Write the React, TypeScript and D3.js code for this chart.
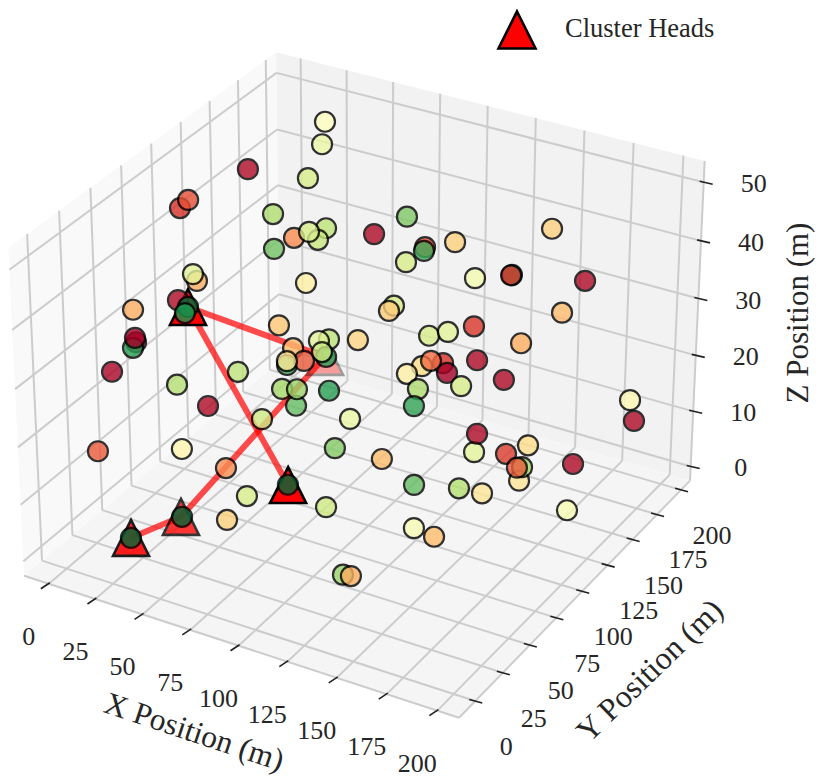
import React from 'react';
import * as d3 from 'd3';

// Sensor nodes, listed far to near (paint order)
const nodeX = [-5.8,-6.4,-6.2,0.8,4.4,2.6,2.3,19.2,20.2,16.7,71.9,32.3,30.0,18.1,25.8,59.7,87.3,87.8,102.5,81.4,117.9,135.9,136.0,37.1,149.8,171.7,7.9,16.2,18.5,18.6,
  10.1,9.9,10.8,6.5,19.9,32.8,27.4,51.7,4.6,25.2,50.8,68.0,65.5,44.8,26.9,50.7,91.5,78.8,74.6,61.9,80.2,60.9,70.5,80.9,63.4,67.9,78.9,76.5,92.5,108.7,
  108.3,132.4,152.3,95.6,117.5,115.5,115.4,140.1,147.9,158.1,178.9,169.9,177.2,158.1,151.0,164.2,155.1,146.3,173.9,153.6,153.3,183.5,182.4,188.5,190.4,193.8,193.2,193.3,189.4,193.7,
  173.6,184.2,197.2,205.0,204.8,201.3,204.4,146.6,150.8];
const nodeY = [170.3,111.8,118.5,181.6,176.2,110.7,107.9,199.2,194.7,187.4,184.4,177.5,173.9,171.9,172.8,175.0,174.2,172.3,175.2,166.8,166.4,168.4,167.4,150.8,180.1,171.3,48.9,73.2,77.8,75.0,
  47.2,44.9,45.4,32.5,64.9,96.6,78.9,86.3,21.8,59.4,56.1,46.0,32.8,27.8,12.8,103.8,105.0,100.9,99.1,97.5,95.9,93.7,92.7,91.1,89.5,77.6,71.4,76.3,77.5,68.3,
  55.6,55.4,49.0,36.1,32.1,95.5,91.2,83.4,86.3,91.3,96.3,72.7,84.1,63.6,57.6,56.1,58.2,52.7,51.1,49.5,46.6,45.9,50.4,66.0,82.9,68.6,72.3,67.3,21.8,34.7,
  11.0,9.7,98.9,158.4,153.9,105.6,94.8,-3.1,-3.5];
const nodeZ = [39.4,41.4,41.8,30.3,25.2,29.7,31.3,45.6,42.4,37.2,35.7,31.2,29.5,29.1,30.7,33.0,33.3,33.0,35.4,31.3,31.9,33.8,33.9,26.1,41.2,35.6,35.1,33.6,31.9,31.3,
  30.0,29.4,31.1,27.0,20.6,18.8,15.2,14.0,14.8,10.7,10.5,9.1,7.0,6.3,3.4,27.5,28.6,28.2,27.8,25.6,26.1,23.2,25.0,27.8,24.8,22.4,21.6,23.4,24.5,22.8,
  19.9,20.5,19.2,15.7,14.8,38.3,38.1,37.5,38.4,39.5,37.8,38.0,33.5,37.9,37.7,38.1,38.9,36.8,37.7,35.5,33.1,28.5,30.7,25.2,23.9,20.7,22.3,23.1,27.3,24.6,
  20.9,20.8,44.2,16.5,20.9,17.8,12.0,12.7,13.0];
// Residual energy, 0 to 1
const nodeEnergy = [.02,.1,.15,.68,.78,.3,.57,.5,.55,.6,.76,.65,.63,.25,.6,.02,.13,.85,.37,.6,.53,.9,.1,.45,.37,.02,.3,.02,.98,.9,.01,.88,0,
  .01,.67,.65,.02,.62,.17,.47,.25,.6,.37,1,1,.35,.38,.65,.57,.33,.88,.85,.17,.62,.42,.7,.8,.72,.88,.55,.75,.33,.8,1,.62,
  .6,.36,.6,.57,.11,.3,.02,.02,.1,.4,0,.2,.45,.6,.68,.87,.57,.02,.12,.4,.42,.7,.17,.67,.42,.52,.33,.33,.02,.48,.02,.52,.72,.3];

const headX = [32.2,46.5,88.0,78.7,28.2];
const headY = [56.5,24.3,48.8,97.5,10.9];
const headZ = [36.6,7.1,12.6,25.7,3.9];
const headShade = [1,.78,1,.35,.88];
const headLinks = [[0,3],[0,2],[4,1],[1,3]];

const xLim = [-13.4,210.6], yLim = [-14.5,209.5], zLim = [-2.6,53.6];
const xTicks = [0,25,50,75,100,125,150,175,200];
const yTicks = [0,25,50,75,100,125,150,175,200];
const zTicks = [0,10,20,30,40,50];

// matplotlib's default 3D view: elev 30, azim -60, box aspect 4:4:3
const box = [1.19048,1.19048,0.89286];
const xS = d3.scaleLinear().domain(xLim).range([0,box[0]]);
const yS = d3.scaleLinear().domain(yLim).range([0,box[1]]);
const zS = d3.scaleLinear().domain(zLim).range([0,box[2]]);
const U = [0.8660254,0.5,0], V = [-0.25,0.4330127,0.8660254], W = [0.4330127,-0.75,0.5];
const dist = 10, scale = 4185, cx = 363.2, cy = 369;
const dot = (a: number[], b: number[]) => a[0]*b[0]+a[1]*b[1]+a[2]*b[2];

function project(x: number, y: number, z: number) {
  const p = [xS(x)-box[0]/2, yS(y)-box[1]/2, zS(z)-box[2]/2];
  const d = dist-dot(p,W);
  return [cx+scale*dot(p,U)/d, cy-scale*dot(p,V)/d];
}

const colour = d3.scaleLinear<string>()
  .domain(d3.range(11).map(d => d/10))
  .range(d3.schemeRdYlGn[11] as string[]);

const triangle = (r: number) => `M0,${-r}L${r},${r}L${-r},${r}Z`;

const seg = (a: number[], b: number[], key: string) => {
  const p = project(a[0],a[1],a[2]), q = project(b[0],b[1],b[2]);
  return <line key={key} x1={p[0]} y1={p[1]} x2={q[0]} y2={q[1]} stroke="#cccccc" strokeWidth={2} />;
};
const pane = (c: number[][], fill: string) => (
  <polygon points={c.map(d => project(d[0],d[1],d[2]).join(',')).join(' ')} fill={fill} />
);

const App: React.FC = () => {
  const [x0,x1] = xLim, [y0,y1] = yLim, [z0,z1] = zLim;
  return (
    <svg width={823} height={778} style={{position:'absolute',left:0,top:0}} fontFamily='"Liberation Serif", serif' fill="#262626">
      {pane([[x0,y0,z0],[x0,y1,z0],[x0,y1,z1],[x0,y0,z1]],'#f9f9f9')}
      {pane([[x0,y1,z0],[x1,y1,z0],[x1,y1,z1],[x0,y1,z1]],'#f2f2f2')}
      {pane([[x0,y0,z0],[x1,y0,z0],[x1,y1,z0],[x0,y1,z0]],'#f5f5f5')}

      {xTicks.map(t => <g key={t}>{seg([t,y0,z0],[t,y1,z0],'a')}{seg([t,y1,z0],[t,y1,z1],'b')}</g>)}
      {yTicks.map(t => <g key={t}>{seg([x0,t,z0],[x1,t,z0],'a')}{seg([x0,t,z0],[x0,t,z1],'b')}</g>)}
      {zTicks.map(t => <g key={t}>{seg([x0,y0,t],[x0,y1,t],'a')}{seg([x0,y1,t],[x1,y1,t],'b')}</g>)}
      {seg([x0,y0,z0],[x1,y0,z0],'e1')}{seg([x1,y0,z0],[x1,y1,z0],'e2')}{seg([x1,y1,z0],[x1,y1,z1],'e3')}

      {xTicks.map(t => {
        const p = project(t,y0,z0);
        return <g key={t}>
          <line x1={p[0]-8} y1={p[1]+5} x2={p[0]+1} y2={p[1]-1} stroke="#222" strokeWidth={1.6} />
          <text x={p[0]-20} y={p[1]+61} fontSize={26} textAnchor="middle">{t}</text>
        </g>;
      })}
      {yTicks.map(t => {
        const p = project(x1,t,z0);
        return <g key={t}>
          <line x1={p[0]-6} y1={p[1]-1.5} x2={p[0]+7} y2={p[1]+2} stroke="#222" strokeWidth={1.6} />
          <text x={p[0]+31} y={p[1]+54} fontSize={26} textAnchor="middle">{t}</text>
        </g>;
      })}
      {zTicks.map(t => {
        const p = project(x1,y1,t);
        return <g key={t}>
          <line x1={p[0]-4} y1={p[1]-1} x2={p[0]+9} y2={p[1]+2} stroke="#222" strokeWidth={1.6} />
          <text x={p[0]+50} y={p[1]+10} fontSize={26} textAnchor="middle">{t}</text>
        </g>;
      })}

      {headLinks.map(([a,b],i) => {
        const p = project(headX[a],headY[a],headZ[a]), q = project(headX[b],headY[b],headZ[b]);
        return <line key={i} x1={p[0]} y1={p[1]} x2={q[0]} y2={q[1]} stroke="#ff0000" strokeOpacity={.7} strokeWidth={6} />;
      })}
      {headX.map((x,i) => {
        const p = project(x,headY[i],headZ[i]);
        return <path key={i} d={triangle(18)} transform={`translate(${p[0]},${p[1]})`} fill="#ff0000" stroke="#000" strokeWidth={2.6} opacity={headShade[i]} />;
      })}
      {nodeX.map((x,i) => {
        const p = project(x,nodeY[i],nodeZ[i]);
        return <circle key={i} cx={p[0]} cy={p[1]} r={10} fill={colour(nodeEnergy[i])} stroke="#000" strokeWidth={2.2} opacity={.8} />;
      })}

      <path d={triangle(18.5)} transform="translate(517,30)" fill="#ff0000" stroke="#000" strokeWidth={2.6} />
      <text x={565} y={37} fontSize={26.5}>Cluster Heads</text>

      <text transform="translate(191,741.5) rotate(18.5)" fontSize={31.5} textAnchor="middle">X Position (m)</text>
      <text transform="translate(657,678) rotate(-44)" fontSize={32} textAnchor="middle">Y Position (m)</text>
      <text transform="translate(808,313) rotate(-90)" fontSize={31} textAnchor="middle">Z Position (m)</text>
    </svg>
  );
};

export default App;
